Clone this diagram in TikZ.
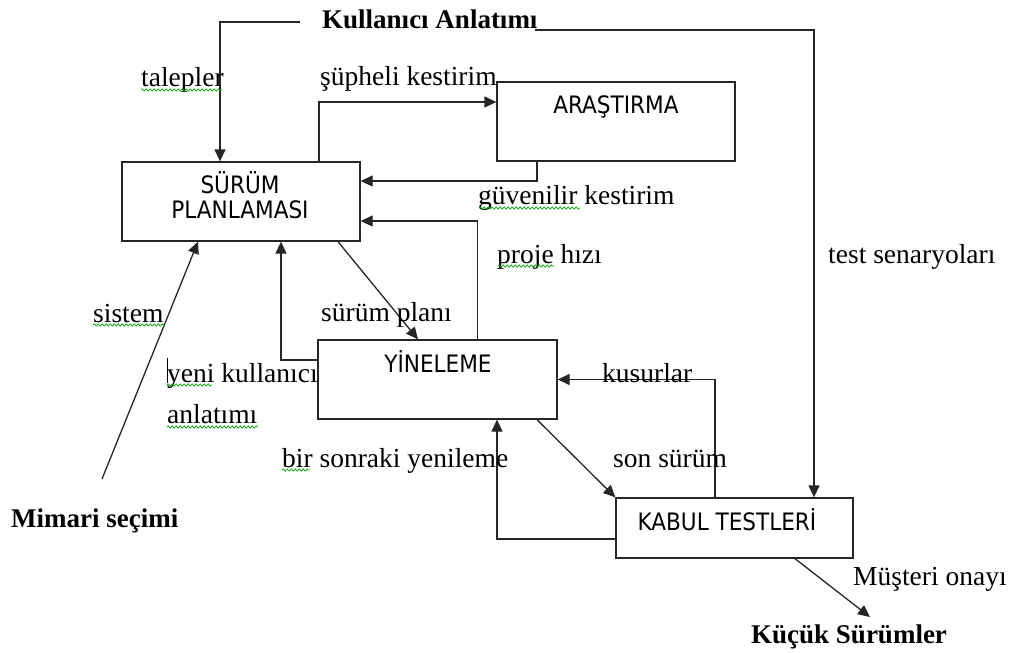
\documentclass[tikz,border=0pt]{standalone}
\usepackage{fontspec}
\setmainfont{Liberation Serif}
\newfontfamily\boxfont{DejaVu Sans Condensed}
\usetikzlibrary{arrows.meta,decorations.pathmorphing}

\begin{document}
\begin{tikzpicture}[x=1pt,y=-1pt,
  box/.style={draw=black!85, line width=1.3pt, inner sep=0pt},
  boxtext/.style={font=\boxfont\fontsize{24}{28}\selectfont, inner sep=0pt, anchor=base},
  lbl/.style={font=\fontsize{27.5}{32}\selectfont, inner sep=0pt, anchor=base west},
  blbl/.style={font=\bfseries\fontsize{27}{32}\selectfont, inner sep=0pt, anchor=base west},
  conn/.style={draw=black!85, line width=1.3pt, -{Triangle[length=12pt,width=11pt]}},
  squig/.style={draw=green!65!black, line width=0.7pt, decorate,
                decoration={snake, amplitude=1.1pt, segment length=4pt}}]
\useasboundingbox (0,0) rectangle (1015,653);

% process boxes
\node[box, minimum width=238pt, minimum height=79pt] (plan)  at (241,201.5) {};
\node[box, minimum width=238pt, minimum height=79pt] (ara)   at (616,121.5) {};
\node[box, minimum width=239pt, minimum height=79pt] (yin)   at (437.5,379.5) {};
\node[box, minimum width=237pt, minimum height=60pt] (kabul) at (734.5,528) {};

% box captions
\node[boxtext] (planA)  at (240,193) {SÜRÜM};
\node[boxtext] (planB)  at (240,218) {PLANLAMASI};
\node[boxtext] (araT)   at (616,113) {ARAŞTIRMA};
\node[boxtext] (yinT)   at (438,372) {YİNELEME};
\node[boxtext] (kabulT) at (727,530) {KABUL TESTLERİ};

% external inputs and outputs
\node[blbl] (kul)   at (322,28)  {Kullanıcı Anlatımı};
\node[blbl] (mim)   at (11,527)  {Mimari seçimi};
\node[blbl] (kucuk) at (751,643) {Küçük Sürümler};

\coordinate (kulL) at (300,22);
\coordinate (kulR) at (535,30);
\coordinate (mimTop) at (102,479);
\coordinate (kucukTop) at (870,617);

% connectors
\draw[conn] (kulL) -| ([xshift=-21pt]plan.north);
\draw[conn] (kulR) -| ([xshift=79.5pt]kabul.north);
\draw[conn] ([xshift=78pt]plan.north) |- ([yshift=19.5pt]ara.west);
\draw[conn] ([xshift=-79pt]ara.south) |- ([yshift=20.5pt]plan.east);
\draw[conn] ([xshift=40pt]yin.north) |- ([yshift=-19.5pt]plan.east);
\draw[conn] ([xshift=97pt]plan.south) -- ([xshift=-19.5pt]yin.north);
\draw[conn] ([yshift=19.5pt]yin.west) -| ([xshift=40pt]plan.south);
\draw[conn] (mimTop) -- ([xshift=-43pt]plan.south);
\draw[conn] ([xshift=99.5pt]yin.south) -- (kabul.north west);
\draw[conn] ([xshift=-19.5pt]kabul.north) |- (yin.east);
\draw[conn] ([yshift=-11pt]kabul.west) -| ([xshift=59.5pt]yin.south);
\draw[conn] ([xshift=60.5pt]kabul.south) -- (kucukTop);

% connector labels
\node[lbl] (lTal)  at (141,86)  {talepler};
\node[lbl] (lSup)  at (320,85)  {şüpheli kestirim};
\node[lbl] (lGuv)  at (478,204) {güvenilir kestirim};
\node[lbl] (lPro)  at (497,263) {proje hızı};
\node[lbl] (lTest) at (828,263) {test senaryoları};
\node[lbl] (lPlan) at (321,321) {sürüm planı};
\node[lbl] (lSis)  at (93,322)  {sistem};
\node[lbl] (lYeni) at (167,382) {yeni kullanıcı};
\node[lbl] (lAnl)  at (167,423) {anlatımı};
\node[lbl] (lBir)  at (282,467) {bir sonraki yenileme};
\node[lbl] (lSon)  at (613,467) {son sürüm};
\node[lbl] (lKus)  at (602,382) {kusurlar};
\node[lbl] (lMus)  at (853,585) {Müşteri onayı};

% spelling marks under words
\draw[squig] (141,90) -- (222,90);
\draw[squig] (479,208) -- (580,208);
\draw[squig] (498,266) -- (554,266);
\draw[squig] (93,325) -- (164,325);
\draw[squig] (167,385) -- (212,385);
\draw[squig] (167,427) -- (258,427);
\draw[squig] (282,470) -- (310,470);

% text cursor
\draw[black, line width=1pt] (167,358) -- (167,383);
\end{tikzpicture}
\end{document}
